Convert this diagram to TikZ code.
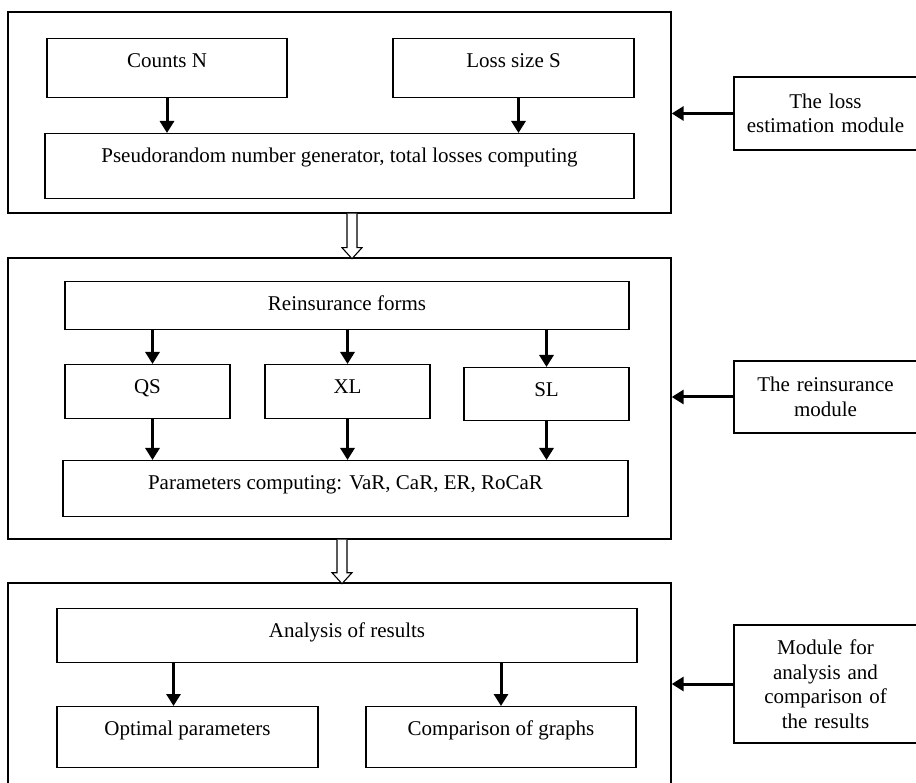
\documentclass[tikz,border=0pt]{standalone}
\usepackage{fontspec}
\setmainfont{Liberation Serif}
\usetikzlibrary{arrows.meta,calc}

\begin{document}
\begin{tikzpicture}[%
      x=1pt, y=-1pt,
      font=\fontsize{21}{24.5}\selectfont,
      frame/.style={draw, line width=1.4pt, inner sep=0pt},
      blk/.style={draw, line width=1.3pt, inner xsep=0pt, inner ysep=0pt, text height=29pt, anchor=north},
      modbox/.style={draw, line width=1.3pt, inner sep=0pt, align=center, text width=175pt},
      arr/.style={line width=3pt, -{Triangle[width=14pt,length=12pt]}},
      hollow/.style={line width=1.1pt, fill=white},
      ]
      \useasboundingbox (0,0) rectangle (916,783);

      \node[frame, minimum width=663pt, minimum height=201pt] (est) at (339.5,112.5) {};
      \node[frame, minimum width=663pt, minimum height=281pt] (rei) at (339.5,398.5) {};
      \node[frame, minimum width=663pt, minimum height=202pt] (ana) at (339.5,684) {};

      \node[blk, minimum width=240pt, text depth=30pt] (cnt) at (167,38) {Counts N};
      \node[blk, minimum width=241pt, text depth=30pt] (loss) at (513.5,38) {Loss size S};
      \node[blk, minimum width=589pt, text depth=36pt] (gen) at (339.5,133) {Pseudorandom number generator, total losses computing};

      \node[blk, minimum width=564pt, text depth=19pt] (forms) at (347,281) {Reinsurance forms};
      \node[blk, minimum width=165pt, text depth=25pt] (qs) at (147.5,364) {QS};
      \node[blk, minimum width=165pt, text depth=25pt] (xl) at (347.5,364) {XL};
      \node[blk, minimum width=165pt, text depth=24pt] (sl) at (546.5,367) {SL};
      \node[blk, minimum width=565pt, text depth=27pt] (par) at (345.5,460) {Parameters computing: VaR, CaR, ER, RoCaR};

      \node[blk, minimum width=580pt, text depth=25pt] (res) at (347,608) {Analysis of results};
      \node[blk, minimum width=261pt, text depth=32pt] (opt) at (187.5,706) {Optimal parameters};
      \node[blk, minimum width=270pt, text depth=32pt] (cmp) at (501,706) {Comparison of graphs};

      \node[modbox, minimum width=183pt, minimum height=73pt] (m1) at (825.5,113.5) {The loss\\estimation module};
      \node[modbox, minimum width=183pt, minimum height=72pt] (m2) at (825.5,397) {The reinsurance\\module};
      \node[modbox, minimum width=183pt, minimum height=118pt] (m3) at (825.5,684) {Module for\\analysis and\\comparison of\\the results};

      \draw[arr] (cnt.south) -- (cnt.south |- gen.north);
      \draw[arr] ($(loss.south)+(5,0)$) -- ($(loss.south |- gen.north)+(5,0)$);

      \draw[arr] ($(qs.north |- forms.south)+(5,0)$) -- ($(qs.north)+(5,0)$);
      \draw[arr] (xl.north |- forms.south) -- (xl.north);
      \draw[arr] (sl.north |- forms.south) -- (sl.north);
      \draw[arr] ($(qs.south)+(5,0)$) -- ($(qs.south |- par.north)+(5,0)$);
      \draw[arr] (xl.south) -- (xl.south |- par.north);
      \draw[arr] (sl.south) -- (sl.south |- par.north);

      \draw[arr] ($(opt.north |- res.south)+(-14,0)$) -- ($(opt.north)+(-14,0)$);
      \draw[arr] (cmp.north |- res.south) -- (cmp.north);

      \draw[arr] (m1.west) -- (m1.west -| est.east);
      \draw[arr] (m2.west) -- (m2.west -| rei.east);
      \draw[arr] (m3.west) -- (m3.west -| ana.east);

      \draw[hollow] ($(est.south)+(12.5,0)$) ++(-5,0) -- ++(0,34) -- ++(-5,0) -- ++(10,11) -- ++(10,-11) -- ++(-5,0) -- ++(0,-34);
      \draw[hollow] ($(rei.south)+(2.5,0)$) ++(-5,0) -- ++(0,33) -- ++(-5,0) -- ++(10,11) -- ++(10,-11) -- ++(-5,0) -- ++(0,-33);
\end{tikzpicture}
\end{document}
